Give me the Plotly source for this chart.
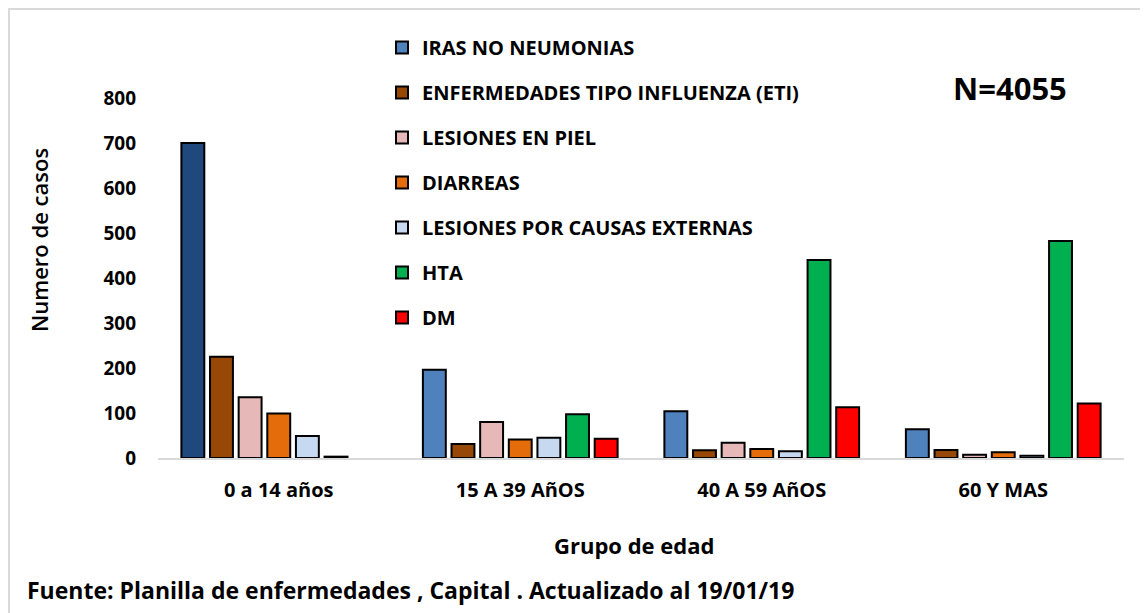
import plotly.graph_objects as go

# age groups (x categories)
categories = ['0 a 14 años', '15 A 39 AñOS', '40 A 59 AñOS', '60 Y MAS']

# cases per disease, one value per age group
iras = [700, 196, 104, 64]
eti = [225, 31, 17, 18]
piel = [135, 80, 34, 7]
diarreas = [99, 41, 20, 13]
externas = [49, 45, 15, 5]
hta = [3, 97, 440, 482]
dm = [None, 43, 113, 121]

series_names = [
    'IRAS NO NEUMONIAS',
    'ENFERMEDADES TIPO INFLUENZA (ETI)',
    'LESIONES EN PIEL',
    'DIARREAS',
    'LESIONES POR CAUSAS EXTERNAS',
    'HTA',
    'DM',
]
series_values = [iras, eti, piel, diarreas, externas, hta, dm]
series_colors = ['#4F81BD', '#974706', '#E6B9B8', '#E46C0A', '#C6D9F1', '#00B050', '#FF0000']
first_iras_color = '#1F497D'  # first bar is drawn darker in the original

y_ticks = [0, 100, 200, 300, 400, 500, 600, 700, 800]

total_label = 'N=4055'
source_text = 'Fuente: Planilla de enfermedades , Capital . Actualizado al 19/01/19'

FONT = 'Open Sans'

# plot area as it should appear on screen (page body adds an 8px offset)
OFF = 8
L, R, T, B = 158, 1124, 20, 458
W, H = R - L, B - T
y_top = 800 * H / (B - 98)


def px(x):
    return (x - L) / W


def py(y):
    return (B - y) / H


fig = go.Figure()

for i, (name, vals, col) in enumerate(zip(series_names, series_values, series_colors)):
    x = list(categories)
    y = list(vals)
    colors = [col] * len(categories)
    if i == 0:
        # put the darker first bar last in the data so the legend swatch keeps the normal blue
        colors[0] = first_iras_color
        x = x[1:] + x[:1]
        y = y[1:] + y[:1]
        colors = colors[1:] + colors[:1]
    fig.add_trace(go.Bar(
        x=x,
        y=y,
        name=name,
        legendgroup=name,
        marker=dict(color=colors, line=dict(color='black', width=2)),
    ))

fig.update_layout(
    width=1148,
    height=613,
    paper_bgcolor='white',
    plot_bgcolor='white',
    margin=dict(l=L - OFF, r=1148 - (R - OFF), t=T - OFF, b=613 - (B - OFF), autoexpand=False),
    barmode='group',
    bargap=0.17,
    bargroupgap=0.2,
    font=dict(family=FONT, size=19, color='#000000'),
    showlegend=True,
    legend=dict(
        x=px(382), xanchor='left',
        y=py(28), yanchor='top',
        traceorder='grouped',
        tracegroupgap=16,
        maxheight=1,
        font=dict(family=FONT, size=20, weight='bold', color='#000000'),
        bgcolor='rgba(0,0,0,0)',
    ),
    xaxis=dict(
        categoryorder='array',
        categoryarray=categories,
        showgrid=False,
        showline=True,
        linecolor='#D9D9D9',
        linewidth=2,
        ticks='',
        ticklabelstandoff=13,
        tickfont=dict(family=FONT, size=20, weight='bold'),
    ),
    yaxis=dict(
        range=[0, y_top],
        tickvals=y_ticks,
        showgrid=False,
        showline=False,
        zeroline=False,
        ticks='',
        ticklabelstandoff=21,
        tickfont=dict(family=FONT, size=19, weight='bold'),
    ),
    shapes=[dict(
        type='rect', xref='paper', yref='paper',
        x0=px(9), x1=px(1170), y0=py(650), y1=py(9),
        line=dict(color='#D9D9D9', width=2),
    )],
)

fig.add_annotation(
    text='Numero de casos', textangle=-90,
    xref='paper', yref='paper', x=px(39), y=py(240),
    xanchor='center', yanchor='middle',
    showarrow=False, font=dict(family=FONT, size=22, weight=600),
)
fig.add_annotation(
    text='Grupo de edad',
    xref='paper', yref='paper', x=px(634), y=py(545),
    xanchor='center', yanchor='middle',
    showarrow=False, font=dict(family=FONT, size=22, weight='bold'),
)
fig.add_annotation(
    text=source_text,
    xref='paper', yref='paper', x=px(25), y=py(590),
    xanchor='left', yanchor='middle',
    showarrow=False, font=dict(family=FONT, size=23, weight='bold'),
)
fig.add_annotation(
    text=total_label,
    xref='paper', yref='paper', x=px(1010), y=py(88),
    xanchor='center', yanchor='middle',
    showarrow=False, font=dict(family=FONT, size=31, weight='bold'),
)

fig.write_html('out.html')
